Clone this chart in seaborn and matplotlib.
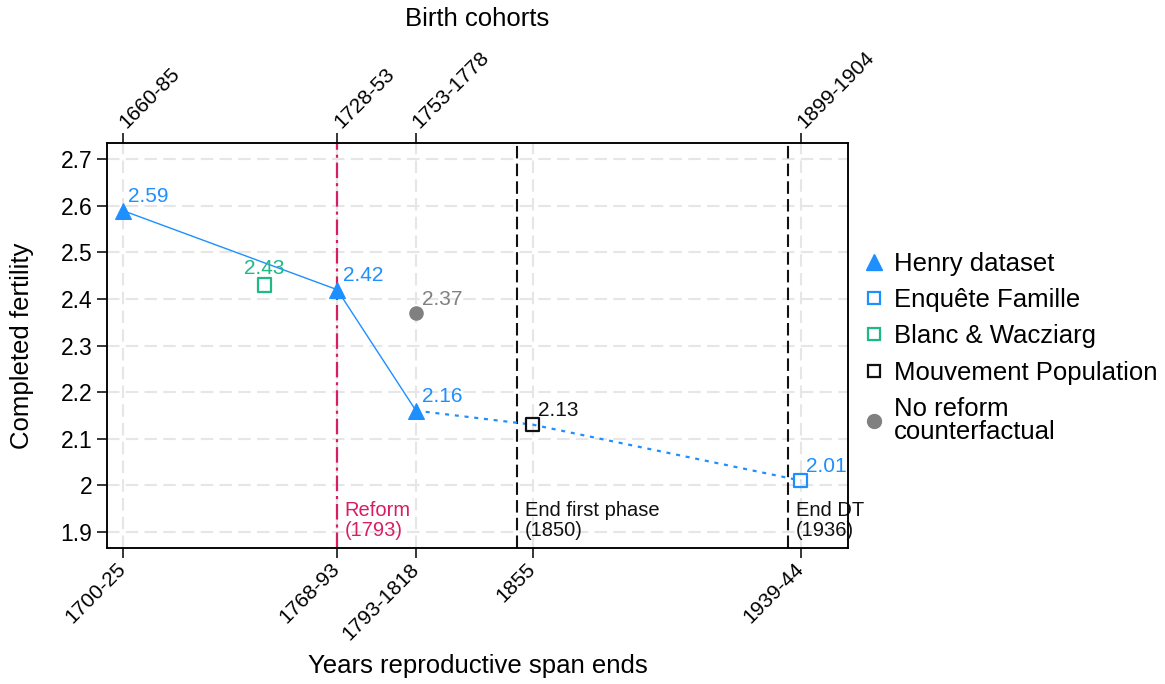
import matplotlib
matplotlib.use("Agg")
import matplotlib.pyplot as plt
import matplotlib.transforms as mtransforms
from matplotlib.lines import Line2D
import seaborn as sns

# ---------------- data ----------------
tick_years = [1725, 1793, 1818, 1855, 1940]
bottom_labels = ["1700-25", "1768-93", "1793-1818", "1855", "1939-44"]
top_years = [1725, 1793, 1818, 1940]
top_labels = ["1660-85", "1728-53", "1753-1778", "1899-1904"]
y_ticks = [1.9, 2.0, 2.1, 2.2, 2.3, 2.4, 2.5, 2.6, 2.7]
y_tick_labels = ["1.9", "2", "2.1", "2.2", "2.3", "2.4", "2.5", "2.6", "2.7"]

henry_x = [1725, 1793, 1818]
henry_y = [2.59, 2.42, 2.16]
bridge_x = [1818, 1855, 1940]
bridge_y = [2.16, 2.13, 2.01]
enquete_x = [1940]
enquete_y = [2.01]
blanc_x = [1770]
blanc_y = [2.43]
mouv_x = [1855]
mouv_y = [2.13]
noreform_x = [1818]
noreform_y = [2.37]

event_years = [1793, 1850, 1936]
event_labels = ["Reform\n(1793)", "End first phase\n(1850)", "End DT\n(1936)"]

legend_labels = ["Henry dataset", "Enquête Famille", "Blanc & Wacziarg",
                 "Mouvement Population", "No reform\ncounterfactual"]

# ---------------- style ----------------
BLUE = "#1E8FFF"
GREEN = "#1DB987"
BLACK = "#111111"
GREY = "#808080"
CRIMSON = "#D81E63"
GRID = "#E6E6E6"

sns.set_theme(style="white")
plt.rcParams["font.family"] = ["Liberation Sans", "DejaVu Sans"]
plt.rcParams.update({
    "axes.edgecolor": "black", "axes.linewidth": 1.1,
    "text.color": "black", "axes.labelcolor": "black",
    "xtick.color": "black", "ytick.color": "black",
})

fig = plt.figure(figsize=(11.65, 6.84), dpi=100)
ax = fig.add_axes([0.0918, 0.1988, 0.6361, 0.5921])
ax.set_xlim(1720, 1955)
ax.set_ylim(1.865, 2.735)

# grid
ax.set_xticks(tick_years)
ax.set_yticks(y_ticks)
ax.grid(True, color=GRID, lw=1.5, ls=(0, (6, 3)))
ax.set_axisbelow(True)

# event lines
event_styles = [
    dict(color=CRIMSON, lw=1.6, ls=(0, (7, 2.2, 1.4, 2.2))),
    dict(color=BLACK, lw=1.5, ls=(0, (6, 2.5))),
    dict(color=BLACK, lw=1.5, ls=(0, (6, 2.5))),
]
event_text_colors = [CRIMSON, BLACK, BLACK]
for yr, lab, st, tc in zip(event_years, event_labels, event_styles, event_text_colors):
    ax.axvline(yr, zorder=2, **st)
    trans = mtransforms.blended_transform_factory(ax.transData, ax.transAxes)
    ax.annotate(lab, xy=(yr, 0.02), xycoords=trans, xytext=(5.5, 0),
                textcoords="offset points", ha="left", va="bottom",
                fontsize=14.5, color=tc, linespacing=1.05)

# series
sns.lineplot(x=henry_x, y=henry_y, ax=ax, color=BLUE, lw=1.0, sort=False,
             marker="^", markersize=12, markeredgecolor=BLUE, zorder=4)
sns.lineplot(x=bridge_x, y=bridge_y, ax=ax, color=BLUE, lw=1.6, sort=False,
             ls=(0, (1.8, 2.6)), zorder=3)
sq = 90
sns.scatterplot(x=enquete_x, y=enquete_y, ax=ax, marker="s", s=sq, color=BLUE,
                facecolor="none", edgecolor=BLUE, linewidth=1.6, zorder=5)
sns.scatterplot(x=blanc_x, y=blanc_y, ax=ax, marker="s", s=sq, color=GREEN,
                facecolor="none", edgecolor=GREEN, linewidth=1.6, zorder=5)
sns.scatterplot(x=mouv_x, y=mouv_y, ax=ax, marker="s", s=sq, color=BLACK,
                facecolor="none", edgecolor=BLACK, linewidth=1.6, zorder=5)
sns.scatterplot(x=noreform_x, y=noreform_y, ax=ax, marker="o", s=110, color=GREY,
                edgecolor=GREY, linewidth=0, zorder=5)

# value labels
def vlab(xs, ys, color, ha="left", dx=4, dy=10):
    for x, y in zip(xs, ys):
        ax.annotate(f"{y:.2f}", xy=(x, y), xytext=(dx, dy), textcoords="offset points",
                    ha=ha, va="center", fontsize=15, color=color, zorder=6)

vlab(henry_x, henry_y, BLUE)
vlab(enquete_x, enquete_y, BLUE)
vlab(mouv_x, mouv_y, BLACK)
vlab(noreform_x, noreform_y, GREY)
vlab(blanc_x, blanc_y, GREEN, ha="center", dx=0, dy=12)

# axes ticks / labels
ax.set_xticklabels(bottom_labels, rotation=45, ha="right", va="center",
                   rotation_mode="anchor", fontsize=15)
ax.set_yticklabels(y_tick_labels, fontsize=16.5)
ax.tick_params(axis="both", direction="out", length=7, width=1.1, color="black",
               bottom=True, left=True)
ax.tick_params(axis="x", pad=6)
ax.tick_params(axis="y", pad=3.5)
ax.set_xlabel("Years reproductive span ends", fontsize=18.5)
ax.xaxis.set_label_coords(0.5, -0.262)
ax.set_ylabel("Completed fertility", fontsize=18.5)
ax.yaxis.set_label_coords(-0.099, 0.5)
for s in ax.spines.values():
    s.set_visible(True)
    s.set_color("black")

ax2 = ax.twiny()
ax2.set_xlim(ax.get_xlim())
ax2.set_xticks(top_years)
ax2.set_xticklabels(top_labels, rotation=45, ha="left", va="center",
                    rotation_mode="anchor", fontsize=15)
ax2.tick_params(axis="x", direction="out", length=7, width=1.1, color="black",
                top=True, pad=6)
ax2.grid(False)
ax2.set_xlabel("Birth cohorts", fontsize=18.5)
ax2.xaxis.set_label_coords(0.5, 1.29)

# legend
handles = [
    Line2D([], [], ls="", marker="^", ms=12, color=BLUE),
    Line2D([], [], ls="", marker="s", ms=9, mfc="none", mec=BLUE, mew=1.6),
    Line2D([], [], ls="", marker="s", ms=9, mfc="none", mec=GREEN, mew=1.6),
    Line2D([], [], ls="", marker="s", ms=9, mfc="none", mec=BLACK, mew=1.6),
    Line2D([], [], ls="", marker="o", ms=10, color=GREY),
]
leg = fig.legend(handles, legend_labels, loc="upper left",
                 bbox_to_anchor=(0.739, 0.632), frameon=False, fontsize=18.5,
                 handlelength=1.0, handletextpad=0.3, labelspacing=0.48,
                 borderpad=0, borderaxespad=0)
for t in leg.get_texts():
    t.set_linespacing(0.93)

fig.savefig("out.png", dpi=100)
